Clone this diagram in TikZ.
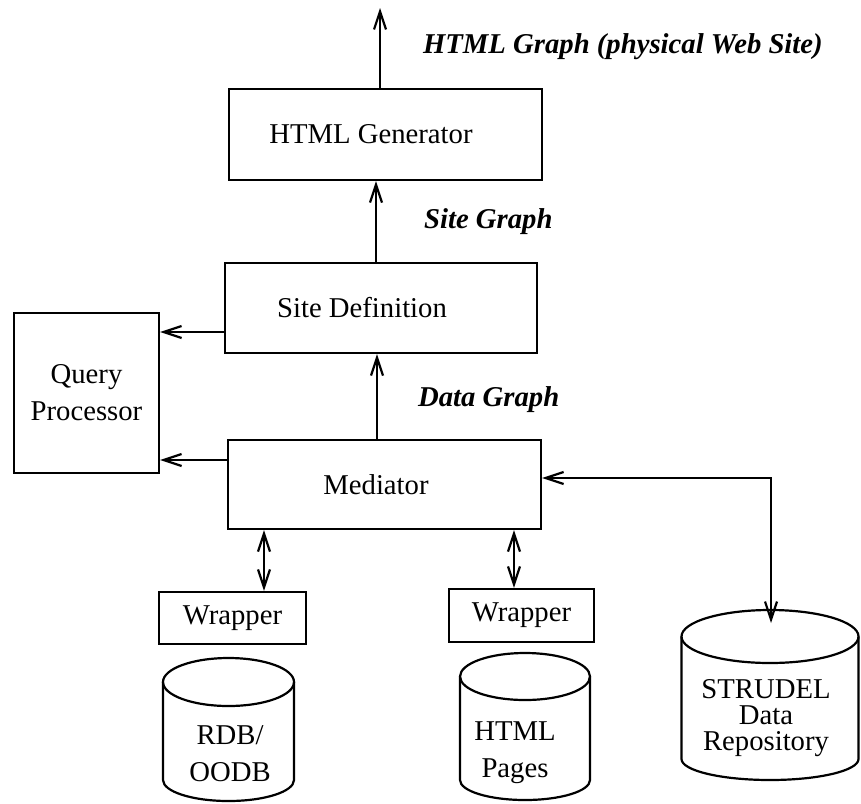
\documentclass[tikz,border=0pt]{standalone}
\usepackage{fontspec}
\setmainfont{Liberation Serif}
\usetikzlibrary{arrows.meta}
\begin{document}
\begin{tikzpicture}[x=1pt,y=-1pt,
  line width=2.2pt,
  every node/.style={font=\fontsize{28.7pt}{37pt}\selectfont},
  box/.style={draw, rectangle, inner sep=0pt, align=center},
  lbl/.style={font=\fontsize{28.7pt}{37pt}\selectfont\bfseries\itshape, anchor=west, inner sep=0pt},
  arr/.style={-{Straight Barb[length=18pt,width=12pt]}},
  darr/.style={{Straight Barb[length=18pt,width=12pt]}-{Straight Barb[length=18pt,width=12pt]}}
]
\useasboundingbox (0,0) rectangle (861,803);

% boxes
\node[box, minimum width=313pt, minimum height=91pt] (gen) at (385.5,134.5) {HTML Generator\hspace{29pt}};
\node[box, minimum width=312pt, minimum height=90pt] (sdef) at (381,308) {Site Definition\hspace{38pt}};
\node[box, minimum width=145pt, minimum height=160pt] (qp) at (86.5,393) {Query\\Processor};
\node[box, minimum width=313pt, minimum height=89pt] (med) at (384.5,484.5) {Mediator\hspace{17pt}};
\node[box, minimum width=147pt, minimum height=52pt] (w1) at (232.5,618) {Wrapper};
\node[box, minimum width=145pt, minimum height=53pt] (w2) at (521.5,615.5) {Wrapper};

% cylinders
\draw (228.5,682) ellipse [x radius=65.5pt, y radius=24pt];
\draw (163,682) -- (163,780) arc [start angle=180, end angle=360, x radius=65.5pt, y radius=21pt] -- (294,682);
\draw (525,676.5) ellipse [x radius=65pt, y radius=23.5pt];
\draw (460,676.5) -- (460,780) arc [start angle=180, end angle=360, x radius=65pt, y radius=20pt] -- (590,676.5);
\draw (770,636.5) ellipse [x radius=88.5pt, y radius=26.5pt];
\draw (681.5,636.5) -- (681.5,759) arc [start angle=180, end angle=360, x radius=88.5pt, y radius=21pt] -- (858.5,636.5);

\node[align=center] (db1) at (230,753.5) {RDB/\\OODB};
\node[align=center] (db2) at (515,752.5) {HTML\\Pages};
\node[align=center, font=\fontsize{28.7pt}{26pt}\selectfont] (repo) at (766,718) {STRUDEL\\Data\\Repository};

% labels
\node[lbl] (hg) at (422,47) {HTML Graph (physical Web Site)};
\node[lbl] (sg) at (423,222) {Site Graph};
\node[lbl] (dg) at (417,400) {Data Graph};

% connectors
\coordinate (topout) at (380,8);
\draw[arr] (gen.north -| topout) -- (topout);
\coordinate (sgx) at (376,0);
\draw[arr] (sdef.north -| sgx) -- (gen.south -| sgx);
\coordinate (dgx) at (377,0);
\draw[arr] (med.north -| dgx) -- (sdef.south -| dgx);
\coordinate (qa) at (0,332);
\draw[arr] (sdef.west |- qa) -- (qp.east |- qa);
\coordinate (qb) at (0,460);
\draw[arr] (med.west |- qb) -- (qp.east |- qb);
\coordinate (w1x) at (264,0);
\draw[darr] (med.south -| w1x) -- (w1.north -| w1x);
\coordinate (w2x) at (514,0);
\draw[darr] (med.south -| w2x) -- (w2.north -| w2x);
\coordinate (rtop) at (771,623);
\coordinate (ry) at (0,478);
\draw[darr] (rtop) |- (med.east |- ry);
\end{tikzpicture}
\end{document}
